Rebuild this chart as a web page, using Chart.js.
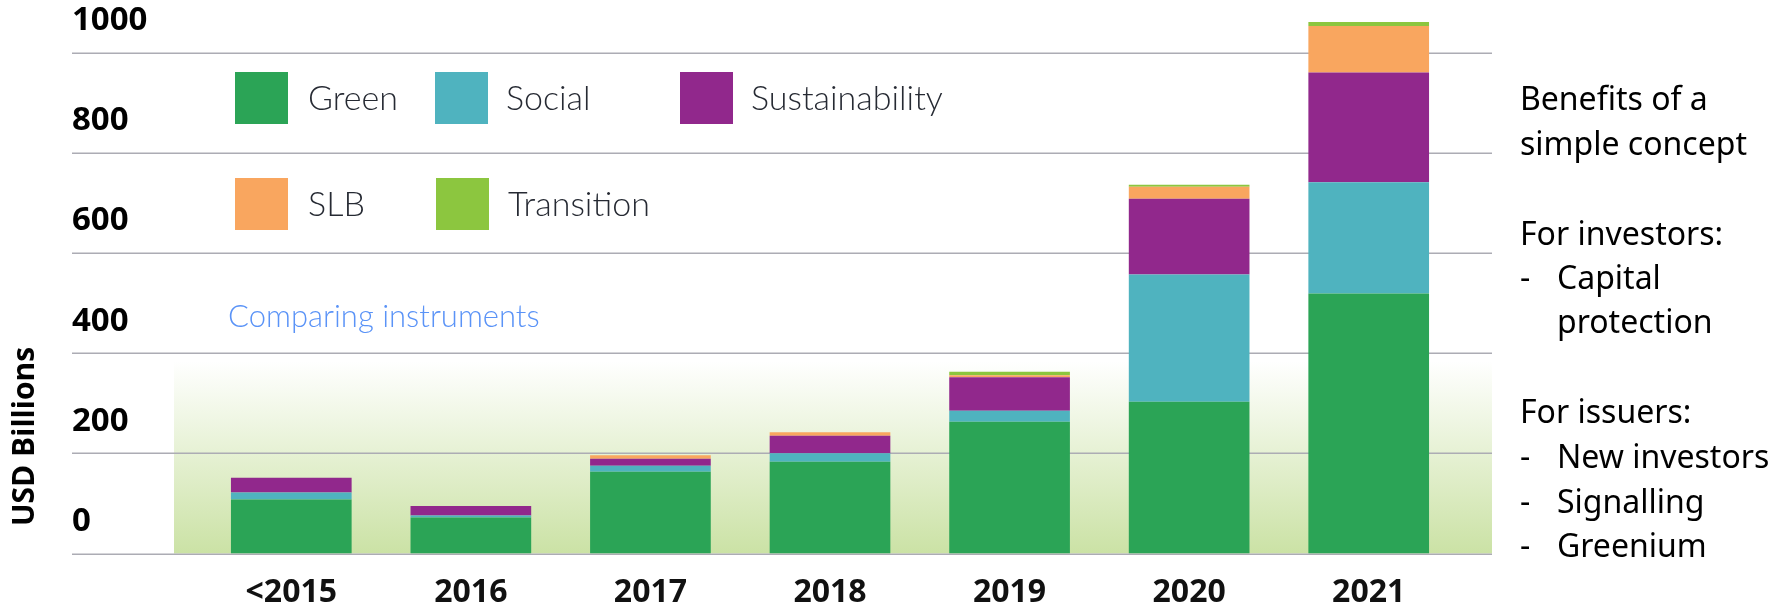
<!DOCTYPE html>
<html><head><meta charset="utf-8">
<script src="https://cdn.jsdelivr.net/npm/chart.js@4.4.1/dist/chart.umd.min.js"></script>
<style>html,body{margin:0;padding:0;background:#fff;} canvas{display:block;}</style>
</head><body>
<canvas id="c" width="1784" height="609"></canvas>
<script>
const categories = ['<2015', '2016', '2017', '2018', '2019', '2020', '2021'];
const green          = [108, 72, 163, 183, 263, 303, 519];
const social         = [14, 4, 12, 17, 22, 254, 222];
const sustainability = [29, 19, 14, 35, 67, 151, 219];
const slb            = [0, 0, 7, 7, 4, 24, 93];
const transition     = [0, 0, 0, 0, 7, 4, 8];
const yTicks = [0, 200, 400, 600, 800, 1000];
const seriesNames = ['Green', 'Social', 'Sustainability', 'SLB', 'Transition'];
const seriesColors = ['#2ba456', '#4fb3bf', '#91288c', '#f9a65f', '#8cc63f'];
const sideText = ['Benefits of a', 'simple concept', 'For investors:', '-|Capital', '|protection', 'For issuers:', '-|New investors', '-|Signalling', '-|Greenium'];
const sideBaselines = [110, 155, 245, 289, 333, 423, 468, 513, 557];
const shadeTopValue = 384;

const seriesValues = [green, social, sustainability, slb, transition];
const datasets = seriesNames.map((n, i) => ({
  label: n, data: seriesValues[i], backgroundColor: seriesColors[i], borderWidth: 0
}));

// legend layout (positions only)
const legendPos = [
  {bx: 235, by: 72, tx: 308, ty: 110},
  {bx: 435, by: 72, tx: 506, ty: 110},
  {bx: 680, by: 72, tx: 751, ty: 110},
  {bx: 235, by: 178, tx: 308, ty: 216},
  {bx: 436, by: 178, tx: 508, ty: 216}
];

function zeroPad(s) { s.paddingTop = 0; s.paddingBottom = 0; s.paddingLeft = 0; s.paddingRight = 0; }

const deco = {
  id: 'deco',
  beforeDraw(chart) {
    const ctx = chart.ctx, y = chart.scales.y;
    const y0 = y.getPixelForValue(0);
    const yTop = y.getPixelForValue(shadeTopValue);
    ctx.save();
    const g = ctx.createLinearGradient(0, yTop, 0, y0);
    g.addColorStop(0, '#ffffff');
    g.addColorStop(1, '#cbe2a5');
    ctx.fillStyle = g;
    ctx.fillRect(174, yTop, 1492 - 174, y0 - yTop);
    ctx.strokeStyle = '#acacb4';
    ctx.lineWidth = 1.5;
    y.ticks.forEach(t => {
      const p = Math.round(y.getPixelForValue(t.value)) + 0.25;
      ctx.beginPath(); ctx.moveTo(72, p); ctx.lineTo(1492, p); ctx.stroke();
    });
    ctx.restore();
  },
  afterDraw(chart) {
    const ctx = chart.ctx;
    ctx.save();
    chart.data.datasets.forEach((ds, i) => {
      const p = legendPos[i];
      ctx.fillStyle = ds.backgroundColor;
      ctx.fillRect(p.bx, p.by, 53, 52);
      ctx.fillStyle = '#262a33';
      ctx.font = '300 34px Lato';
      ctx.textBaseline = 'alphabetic';
      ctx.textAlign = 'left';
      ctx.fillText(ds.label, p.tx, p.ty);
    });
    ctx.fillStyle = '#5a93f7';
    ctx.font = '300 31px Lato';
    ctx.fillText('Comparing instruments', 228, 327);
    ctx.save();
    ctx.translate(34, 436.5);
    ctx.rotate(-Math.PI / 2);
    ctx.fillStyle = '#000';
    ctx.font = 'bold 30px "Open Sans"';
    ctx.textAlign = 'center';
    ctx.textBaseline = 'alphabetic';
    ctx.fillText('USD Billions', 0, 0);
    ctx.restore();
    ctx.fillStyle = '#000';
    ctx.font = '32px "Noto Sans"';
    ctx.textAlign = 'left';
    sideText.forEach((s, i) => {
      const parts = s.split('|');
      if (parts.length === 1) {
        ctx.fillText(s, 1520, sideBaselines[i]);
      } else {
        if (parts[0]) ctx.fillText(parts[0], 1520, sideBaselines[i]);
        ctx.fillText(parts[1], 1557, sideBaselines[i]);
      }
    });
    ctx.restore();
  }
};

new Chart(document.getElementById('c'), {
  type: 'bar',
  data: { labels: categories, datasets },
  options: {
    responsive: false,
    animation: false,
    devicePixelRatio: 1,
    layout: { padding: { left: 72, right: 325.5, top: 2.4, bottom: 0 } },
    datasets: { bar: { categoryPercentage: 0.672, barPercentage: 1 } },
    plugins: { legend: { display: false }, tooltip: { enabled: false } },
    scales: {
      x: {
        stacked: true,
        grid: { display: false, drawTicks: false },
        border: { display: false },
        ticks: { color: '#111', padding: 20, font: { family: 'Open Sans', weight: 'bold', size: 32 } },
        afterFit(s) { s.height = 55.5; zeroPad(s); }
      },
      y: {
        stacked: true,
        min: 0, max: 1100,
        grid: { display: false, drawTicks: false },
        border: { display: false },
        afterBuildTicks(s) { s.ticks = yTicks.map(v => ({ value: v })); },
        ticks: {
          color: '#000', crossAlign: 'far', labelOffset: -32,
          font: { family: 'Open Sans', weight: 'bold', size: 33 },
          callback: v => String(v)
        },
        afterFit(s) { s.width = 129.5; zeroPad(s); }
      }
    }
  },
  plugins: [deco]
});
</script>
</body></html>
